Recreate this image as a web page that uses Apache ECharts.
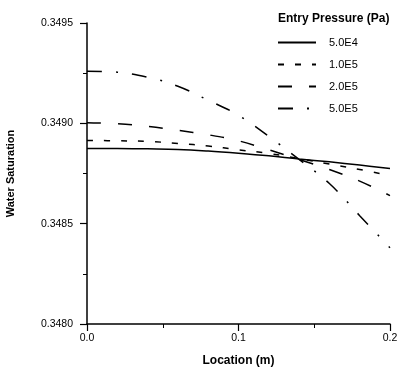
<!DOCTYPE html>
<html><head><meta charset="utf-8">
<script src="https://cdn.jsdelivr.net/npm/echarts@6/dist/echarts.min.js"></script>
<style>html,body{margin:0;padding:0;background:#fff}#c{width:397px;height:367px}</style>
</head><body><div id="c"></div>
<script>
const locations = [0, 0.02, 0.04, 0.06, 0.08, 0.10, 0.12, 0.14, 0.16, 0.18, 0.20];
const seriesNames = ['5.0E4', '1.0E5', '2.0E5', '5.0E5'];
const sat_5E4 = [0.348875, 0.348875, 0.348873, 0.34887, 0.348862, 0.348851, 0.348838, 0.348822, 0.348808, 0.348792, 0.348775];
const sat_1E5 = [0.348915, 0.348913, 0.34891, 0.3489, 0.348887, 0.348868, 0.34885, 0.348824, 0.348797, 0.34877, 0.34874];
const sat_2E5 = [0.349003, 0.348998, 0.348985, 0.348965, 0.348943, 0.348913, 0.348868, 0.34882, 0.34877, 0.348712, 0.34864];
const sat_5E5 = [0.34926, 0.349255, 0.34923, 0.349185, 0.349115, 0.34904, 0.348935, 0.34882, 0.3487, 0.34854, 0.34838];
const xTickLabels = ['0.0', '0.1', '0.2'];
const yTickLabels = ['0.3480', '0.3485', '0.3490', '0.3495'];

const FONT = '"Liberation Sans", Arial, sans-serif';
const allData = [sat_5E4, sat_1E5, sat_2E5, sat_5E5];
const dashes = ['solid', [6, 11], [14, 17], [15, 14, 2, 14]];

const chart = echarts.init(document.getElementById('c'), null, {renderer: 'canvas'});
chart.setOption({
  animation: false,
  backgroundColor: '#fff',
  title: {
    text: 'Entry Pressure (Pa)', left: 273, top: 8,
    textStyle: {fontFamily: FONT, fontSize: 12, fontWeight: 'bold', color: '#000'}
  },
  legend: {
    orient: 'vertical', left: 272, top: 32, itemWidth: 38, itemHeight: 10, itemGap: 11,
    data: seriesNames,
    itemStyle: {opacity: 0},
    textStyle: {fontFamily: FONT, fontSize: 11, color: '#000', padding: [0, 0, 0, 8]}
  },
  grid: {left: 87, right: 7, top: 23, bottom: 43, containLabel: false, outerBoundsMode: 'none'},
  xAxis: {
    type: 'value', min: 0, max: 0.2, interval: 0.1,
    name: 'Location (m)', nameLocation: 'middle', nameGap: 31,
    nameTextStyle: {fontFamily: FONT, fontSize: 12, fontWeight: 'bold', color: '#000'},
    axisLine: {lineStyle: {color: '#000', width: 1.5}},
    axisTick: {show: true, length: 7, lineStyle: {color: '#000', width: 1.2}},
    minorTick: {show: true, splitNumber: 2, length: 4, lineStyle: {color: '#000', width: 1}},
    splitLine: {show: false},
    axisLabel: {fontFamily: FONT, fontSize: 10.5, color: '#000', margin: 9,
      formatter: v => xTickLabels[Math.round(v / 0.1)]}
  },
  yAxis: {
    type: 'value', min: 0.3480, max: 0.3495, interval: 0.0005,
    name: 'Water Saturation', nameLocation: 'middle', nameGap: 71, nameRotate: 90,
    nameTextStyle: {fontFamily: FONT, fontSize: 11, fontWeight: 'bold', color: '#000'},
    axisLine: {show: true, lineStyle: {color: '#000', width: 1.5}},
    axisTick: {show: true, length: 7, lineStyle: {color: '#000', width: 1.2}},
    minorTick: {show: true, splitNumber: 2, length: 4, lineStyle: {color: '#000', width: 1}},
    splitLine: {show: false},
    axisLabel: {fontFamily: FONT, fontSize: 10.5, color: '#000', margin: 14,
      formatter: v => yTickLabels[Math.round((v - 0.348) / 0.0005)]}
  },
  series: seriesNames.map((n, i) => ({
    name: n, type: 'line', smooth: 0.4, symbol: 'none', showSymbol: false,
    data: locations.map((x, j) => [x, allData[i][j]]),
    lineStyle: {color: '#000', width: 1.5, type: dashes[i]},
    itemStyle: {color: '#000'}
  }))
});
</script></body></html>
